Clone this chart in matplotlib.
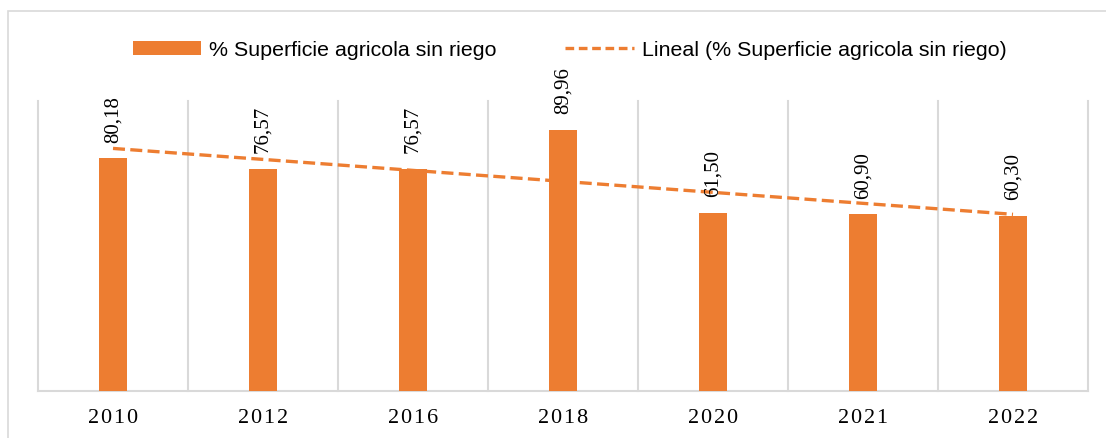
import matplotlib
matplotlib.use("Agg")
import matplotlib.pyplot as plt
import numpy as np
from matplotlib.patches import Rectangle, Patch
from matplotlib.lines import Line2D

# data
years = ["2010", "2012", "2016", "2018", "2020", "2021", "2022"]
sin_riego = [80.18, 76.57, 76.57, 89.96, 61.50, 60.90, 60.30]
labels = ["80,18", "76,57", "76,57", "89,96", "61,50", "60,90", "60,30"]

orange = "#ED7D31"
grid_gray = "#D9D9D9"

W, H = 1106, 439
fig = plt.figure(figsize=(W / 100, H / 100), dpi=100)
ax = fig.add_axes([38 / W, 1 - 392 / H, (1088 - 38) / W, (392 - 102) / H])

x = np.arange(len(years))
ax.bar(x, sin_riego, width=0.185, color=orange, zorder=3)

# linear trend (Excel "Lineal")
coef = np.polyfit(x + 1, sin_riego, 1)
trend = np.polyval(coef, x + 1)
ax.plot(x, trend, color=orange, lw=2.4, dashes=(3.6, 1.6), zorder=4)

# data labels, rotated
for xi, v, lab in zip(x, sin_riego, labels):
    ax.annotate(lab, (xi, v), xytext=(0, 12), textcoords="offset points",
                rotation=90, ha="center", va="bottom",
                family=["Liberation Serif", "DejaVu Serif"], fontsize=15, zorder=5)

# category separators
for b in np.arange(-0.5, len(years), 1.0):
    ax.plot([b, b], [0, 100], color=grid_gray, lw=1.5, zorder=1, clip_on=False)

ax.set_xlim(-0.5, len(years) - 0.5)
ax.set_ylim(0, 100)
for s in ["top", "right", "left"]:
    ax.spines[s].set_visible(False)
ax.spines["bottom"].set_color(grid_gray)
ax.spines["bottom"].set_linewidth(1.5)
ax.set_yticks([])
ax.set_xticks(x)
ax.set_xticklabels(["\u200a".join(y) for y in years],
                   family=["Liberation Serif", "DejaVu Serif"], fontsize=16)
ax.tick_params(axis="x", length=0, pad=12)

# legend
handles = [Patch(facecolor=orange, edgecolor="none"),
           Line2D([0], [0], color=orange, lw=2.4, dashes=(2.6, 1.4))]
fig.legend(handles, ["% Superficie agricola sin riego",
                     "Lineal (% Superficie agricola sin riego)"],
           loc="center", bbox_to_anchor=(0.515, 1 - 51 / H), ncol=2, frameon=False,
           prop={"family": "Liberation Sans", "size": 15.4},
           handlelength=3.2, handleheight=0.6, handletextpad=0.37, columnspacing=3.2)

# outer chart border
fig.patches.append(Rectangle((8 / W, -0.1), 1.2, 1 - 12 / H + 0.1,
                             transform=fig.transFigure, fill=False,
                             edgecolor=grid_gray, lw=1.2))

fig.savefig("out.png", dpi=100)
